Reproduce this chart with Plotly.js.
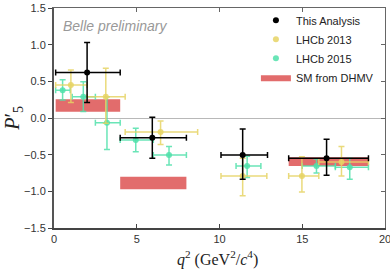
<!DOCTYPE html>
<html>
<head>
<meta charset="utf-8">
<script src="https://cdn.plot.ly/plotly-3.0.1.min.js"></script>
<style>html,body{margin:0;padding:0;background:#fff;}#chart{width:390px;height:271px;}</style>
</head>
<body>
<div id="chart"></div>
<script>
// This Analysis (Belle)
const belleX   = [2.0, 5.94, 11.4, 16.47];
const belleXlo = [0.1, 4.0, 10.09, 14.18];
const belleXhi = [4.0, 8.0, 12.9, 19.0];
const belleY   = [0.62, -0.27, -0.505, -0.55];
const belleYlo = [0.21, -0.55, -0.835, -0.78];
const belleYhi = [1.03, 0.01, -0.15, -0.29];

// LHCb 2013
const l13X   = [1.02, 3.13, 6.44, 11.4, 14.98, 17.37];
const l13Xlo = [0.1, 2.0, 4.3, 10.09, 14.18, 16.0];
const l13Xhi = [2.0, 4.3, 8.68, 12.86, 16.0, 19.0];
const l13Y   = [0.45, 0.29, -0.19, -0.79, -0.79, -0.60];
const l13Ylo = [0.21, -0.07, -0.36, -1.06, -1.01, -0.79];
const l13Yhi = [0.655, 0.68, -0.04, -0.55, -0.53, -0.39];

// LHCb 2015
const l15X   = [0.52, 1.77, 3.2, 4.94, 6.95, 11.67, 15.86, 17.87];
const l15Xlo = [0.1, 1.1, 2.5, 4.0, 6.0, 11.0, 15.0, 17.0];
const l15Xhi = [0.98, 2.5, 4.0, 6.0, 8.0, 12.5, 17.0, 19.0];
const l15Y   = [0.38, 0.29, -0.065, -0.30, -0.505, -0.655, -0.655, -0.67];
const l15Ylo = [0.245, 0.09, -0.43, -0.46, -0.64, -0.81, -0.75, -0.835];
const l15Yhi = [0.52, 0.495, 0.29, -0.14, -0.39, -0.52, -0.56, -0.55];

// SM from DHMV (bin boxes)
const smXlo = [0.1, 4.0, 14.18];
const smXhi = [4.0, 8.0, 19.0];
const smYlo = [0.086, -0.97, -0.655];
const smYhi = [0.255, -0.80, -0.535];

const seriesNames = ["This Analysis", "LHCb 2013", "LHCb 2015", "SM from DHMV"];
const xTicks = [0, 5, 10, 15, 20];
const yTicks = [-1.5, -1.0, -0.5, 0.0, 0.5, 1.0, 1.5];
const xTitle = '<i>q</i><sup>2</sup> (GeV<sup>2</sup>/<i>c</i><sup>4</sup>)';
const yTitle = '<i>P</i>′<sub>5</sub>';

function errTrace(name, x, xlo, xhi, y, ylo, yhi, color, rank) {
  return {
    type: 'scatter', mode: 'markers', name: name, legendrank: rank,
    x: x, y: y,
    marker: {color: color, size: 6},
    error_x: {type: 'data', symmetric: false,
      array: x.map((v, i) => xhi[i] - v), arrayminus: x.map((v, i) => v - xlo[i]),
      color: color, thickness: 1.5, width: 3},
    error_y: {type: 'data', symmetric: false,
      array: y.map((v, i) => yhi[i] - v), arrayminus: y.map((v, i) => v - ylo[i]),
      color: color, thickness: 1.5, width: 3},
    cliponaxis: false
  };
}

const boxX = [], boxY = [];
smXlo.forEach((x0, i) => {
  boxX.push(x0, smXhi[i], smXhi[i], x0, x0, null);
  boxY.push(smYlo[i], smYlo[i], smYhi[i], smYhi[i], smYlo[i], null);
});

const traces = [
  {type: 'scatter', mode: 'lines', name: seriesNames[3], legendrank: 4,
   x: boxX, y: boxY, fill: 'toself', fillcolor: 'rgba(224,96,96,0.92)',
   line: {width: 0, color: 'rgba(224,96,96,0.92)'}},
  errTrace(seriesNames[2], l15X, l15Xlo, l15Xhi, l15Y, l15Ylo, l15Yhi, 'rgba(80,224,170,0.85)', 3),
  errTrace(seriesNames[1], l13X, l13Xlo, l13Xhi, l13Y, l13Ylo, l13Yhi, 'rgba(230,212,100,0.85)', 2),
  errTrace(seriesNames[0], belleX, belleXlo, belleXhi, belleY, belleYlo, belleYhi, '#000000', 1),
  {type: 'scatter', x: [], y: [], xaxis: 'x2', yaxis: 'y2', showlegend: false, hoverinfo: 'skip'}
];

const tickFont = {family: 'Liberation Sans, Arial, sans-serif', size: 11, color: '#333'};
const titleFont = {family: 'Liberation Serif, DejaVu Serif, serif', color: '#222'};

const layout = {
  width: 390, height: 271,
  margin: {l: 54, r: 5, t: 8, b: 43},
  paper_bgcolor: '#fff', plot_bgcolor: '#fff',
  showlegend: true,
  legend: {x: 0.61, y: 1.01, xanchor: 'left', yanchor: 'top', bgcolor: 'rgba(0,0,0,0)',
           font: {family: 'Liberation Sans, Arial, sans-serif', size: 11, color: '#222'},
           traceorder: 'normal'},
  xaxis: {range: [0, 20], tickvals: xTicks, ticks: 'inside', ticklen: 4, tickwidth: 1, tickcolor: '#444',
          showline: true, linecolor: '#444', linewidth: 1.5, showgrid: false, zeroline: false,
          tickfont: tickFont, ticklabeloverflow: 'allow'},
  yaxis: {range: [-1.5, 1.5], tickvals: yTicks, tickformat: '.1f', ticks: 'outside', ticklen: 4, tickwidth: 1,
          tickcolor: '#444', showline: true, linecolor: '#555', linewidth: 2, showgrid: false,
          zeroline: true, zerolinecolor: '#b8b8b8', zerolinewidth: 1, tickfont: tickFont},
  xaxis2: {overlaying: 'x', side: 'top', anchor: 'y2', range: [0, 20], tickvals: xTicks, ticks: 'inside', ticklen: 4,
           tickcolor: '#666', showline: true, linecolor: '#666', linewidth: 1, showticklabels: false,
           showgrid: false, zeroline: false},
  yaxis2: {overlaying: 'y', side: 'right', anchor: 'x2', range: [-1.5, 1.5], tickvals: yTicks, ticks: 'inside', ticklen: 4,
           tickcolor: '#666', showline: true, linecolor: '#666', linewidth: 1, showticklabels: false,
           showgrid: false, zeroline: false},
  annotations: [
    {text: '<i>Belle preliminary</i>', x: 0.4, y: 1.26, xref: 'x', yref: 'y',
     xanchor: 'left', yanchor: 'middle', showarrow: false,
     font: {family: 'Liberation Sans, Arial, sans-serif', size: 14, color: '#999'}},
    {text: xTitle, x: 0.495, y: -0.14, xref: 'paper', yref: 'paper', xanchor: 'center', yanchor: 'middle',
     showarrow: false, font: Object.assign({size: 16}, titleFont)},
    {text: yTitle, x: -0.125, y: 0.5, xref: 'paper', yref: 'paper', xanchor: 'center', yanchor: 'middle',
     textangle: -90, showarrow: false, font: Object.assign({size: 20}, titleFont)}
  ]
};

Plotly.newPlot('chart', traces, layout, {displayModeBar: false, staticPlot: true});
</script>
</body>
</html>
